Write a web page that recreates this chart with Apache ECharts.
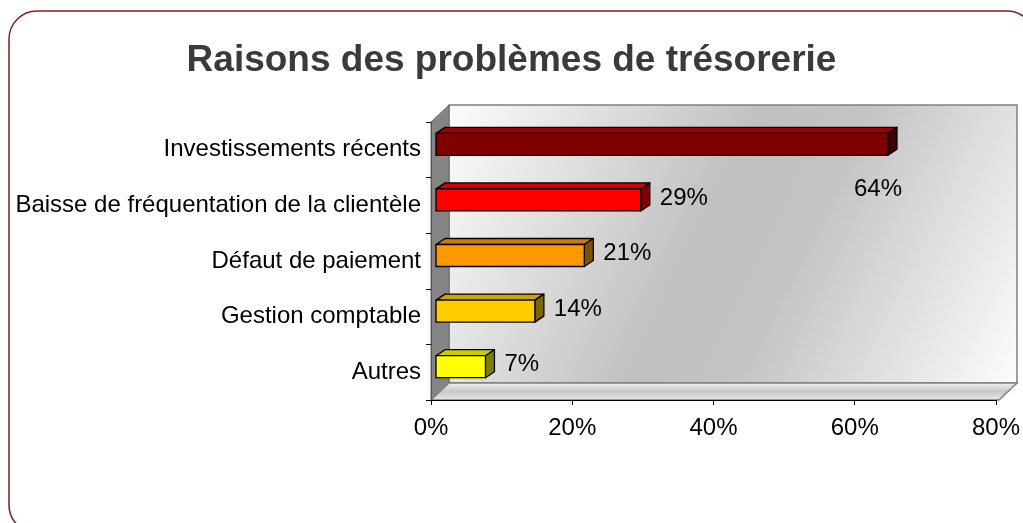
<!DOCTYPE html>
<html>
<head>
<meta charset="utf-8">
<title>Raisons des problèmes de trésorerie</title>
<script src="https://cdn.jsdelivr.net/npm/echarts@6/dist/echarts.min.js"></script>
<style>
  html, body { margin: 0; padding: 0; background: #fff; }
  #main { width: 1023px; height: 523px; }
</style>
</head>
<body>
<div id="main"></div>
<script>
// données
const categories = ['Investissements récents', 'Baisse de fréquentation de la clientèle', 'Défaut de paiement', 'Gestion comptable', 'Autres']
const values = [64, 29, 21, 14, 7]
const xTicks = [0, 20, 40, 60, 80]

// couleurs des barres : face, dessus, côté
const faceColors = ['#800000', '#ff0000', '#ff9900', '#ffcc00', '#ffff00']
const topColors = ['#9a0000', '#d00000', '#d07a00', '#d0a400', '#cccc00']
const sideColors = ['#400000', '#800000', '#805000', '#806600', '#808000']

// grille (plan avant)
const G = { left: 431, right: 999, top: 122, bottom: 400 }
const DEPTH = [18, -17]
const FONT = '"Liberation Sans", Arial, sans-serif'

let chart = echarts.init(document.getElementById('main'))

function renderBar (params, api) {
  const idx = params.dataIndex
  const start = api.coord([0, api.value(1)])
  const end = api.coord([api.value(0), api.value(1)])
  const cy = start[1] - 5.5
  const x0 = start[0] + 5
  const x1 = end[0] + 5
  const yt = cy - 11
  const yb = cy + 11
  const dx = 9
  const dy = -6
  const edge = { stroke: '#000', lineWidth: 1.3, lineJoin: 'round' }
  const children = [
    { type: 'polygon', shape: { points: [[x0, yt], [x0 + dx, yt + dy], [x1 + dx, yt + dy], [x1, yt]] }, style: Object.assign({ fill: topColors[idx] }, edge) },
    { type: 'polygon', shape: { points: [[x1, yt], [x1 + dx, yt + dy], [x1 + dx, yb + dy], [x1, yb]] }, style: Object.assign({ fill: sideColors[idx] }, edge) },
    { type: 'rect', shape: { x: x0, y: yt, width: x1 - x0, height: yb - yt }, style: Object.assign({ fill: faceColors[idx] }, edge) }
  ]
  let label
  if (idx === 0) {
    label = { x: x1 - 10, y: cy + 45, align: 'center' }
  } else {
    label = { x: x1 + dx + 10, y: cy - 2, align: 'left' }
  }
  children.push({
    type: 'text',
    style: {
      text: api.value(0) + '%',
      x: label.x,
      y: label.y,
      align: label.align,
      verticalAlign: 'middle',
      fill: '#000',
      font: '24px ' + FONT
    }
  })
  return { type: 'group', children: children }
}

let option = {
  animation: false,
  backgroundColor: '#fff',
  title: {
    text: 'Raisons des problèmes de trésorerie',
    left: 'center',
    top: 37,
    textStyle: {
      fontFamily: FONT,
      fontSize: 37,
      fontWeight: 'bold',
      color: '#3a3a3a'
    }
  },
  graphic: {
    elements: [
      {
        type: 'rect',
        shape: { x: 9, y: 11, width: 1026, height: 522, r: 28 },
        style: { fill: null, stroke: '#8b1a1a', lineWidth: 1.5 },
        z: 0
      },
      // paroi du fond
      {
        type: 'rect',
        shape: { x: G.left + DEPTH[0], y: G.top + DEPTH[1], width: G.right - G.left, height: G.bottom - G.top },
        style: {
          fill: new echarts.graphic.LinearGradient(0, 0, 1, 1, [
            { offset: 0, color: '#fdfdfd' },
            { offset: 0.45, color: '#c0c0c0' },
            { offset: 0.6, color: '#c4c4c4' },
            { offset: 1, color: '#fdfdfd' }
          ]),
          stroke: '#808080',
          lineWidth: 1.5
        },
        z: 0
      },
      // paroi gauche
      {
        type: 'polygon',
        shape: { points: [[G.left, G.top], [G.left + DEPTH[0], G.top + DEPTH[1]], [G.left + DEPTH[0], G.bottom + DEPTH[1]], [G.left, G.bottom]] },
        style: { fill: '#858585', stroke: '#6a6a6a', lineWidth: 1 },
        z: 0
      },
      // plancher
      {
        type: 'polygon',
        shape: { points: [[G.left, G.bottom], [G.left + DEPTH[0], G.bottom + DEPTH[1]], [G.right + DEPTH[0], G.bottom + DEPTH[1]], [G.right, G.bottom]] },
        style: {
          fill: new echarts.graphic.LinearGradient(0, 0, 0, 1, [
            { offset: 0, color: '#f4f4f4' },
            { offset: 0.5, color: '#c8c8c8' },
            { offset: 1, color: '#ececec' }
          ]),
          stroke: '#808080',
          lineWidth: 1.5
        },
        z: 0
      }
    ]
  },
  grid: {
    left: G.left,
    right: 1023 - G.right,
    top: G.top,
    bottom: 523 - G.bottom,
    containLabel: false
  },
  xAxis: {
    type: 'value',
    min: xTicks[0],
    max: xTicks[xTicks.length - 1],
    interval: xTicks[1] - xTicks[0],
    axisLine: { show: true, lineStyle: { color: '#000', width: 1 } },
    axisTick: { show: true, length: 5, lineStyle: { color: '#000' } },
    splitLine: { show: false },
    axisLabel: {
      formatter: '{value}%',
      margin: 16,
      color: '#000',
      fontSize: 24,
      fontFamily: FONT
    },
    z: 5
  },
  yAxis: {
    type: 'category',
    inverse: true,
    data: categories,
    axisLine: { show: true, lineStyle: { color: '#555', width: 1 } },
    axisTick: { show: true, length: 5, lineStyle: { color: '#000' } },
    axisLabel: {
      margin: 10,
      color: '#000',
      fontSize: 24,
      fontFamily: FONT,
      padding: [0, 0, 4, 0]
    },
    z: 5
  },
  series: [
    {
      type: 'custom',
      renderItem: renderBar,
      encode: { x: 0, y: 1 },
      data: values.map((v, i) => [v, i]),
      z: 10
    }
  ]
}

chart.setOption(option)
</script>
</body>
</html>
